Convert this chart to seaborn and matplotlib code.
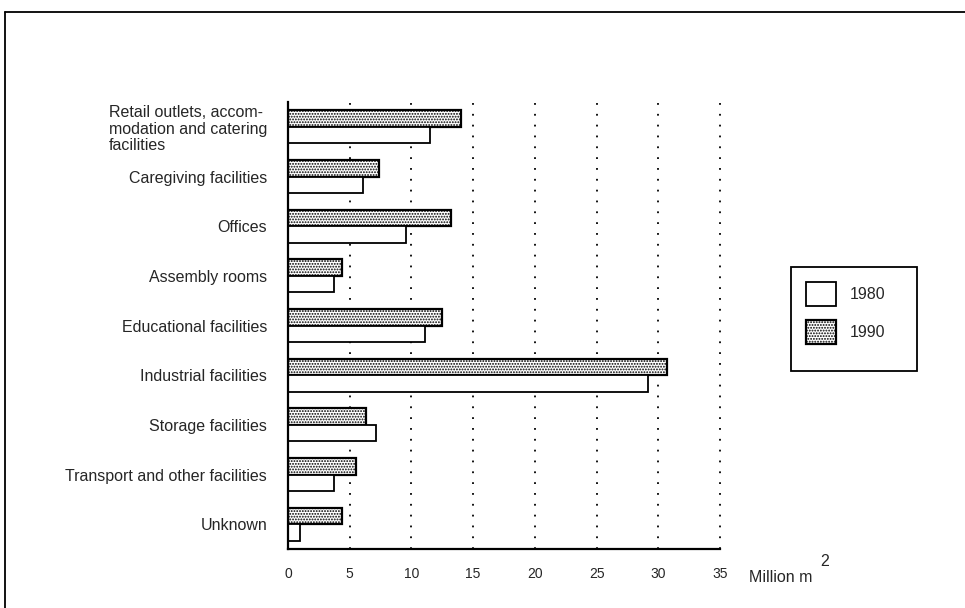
import matplotlib
matplotlib.use("Agg")
import matplotlib.pyplot as plt
from matplotlib.patches import Patch, Rectangle
from matplotlib.lines import Line2D
import pandas as pd
import seaborn as sns

# Floor space by building use, million m2
categories = [
    "Retail outlets, accom-\nmodation and catering\nfacilities",
    "Caregiving facilities",
    "Offices",
    "Assembly rooms",
    "Educational facilities",
    "Industrial facilities",
    "Storage facilities",
    "Transport and other facilities",
    "Unknown",
]
values_1990 = [14.0, 7.4, 13.2, 4.4, 12.5, 30.7, 6.35, 5.5, 4.35]
values_1980 = [11.5, 6.05, 9.6, 3.7, 11.1, 29.2, 7.1, 3.75, 1.0]
years = ["1990", "1980"]
x_ticks = [0, 5, 10, 15, 20, 25, 30, 35]

df = pd.DataFrame({
    "use": categories * 2,
    "year": ["1990"] * len(categories) + ["1980"] * len(categories),
    "area": values_1990 + values_1980,
})

sns.set_style("white")
plt.rcParams["font.family"] = ["Liberation Sans", "DejaVu Sans"]
plt.rcParams["hatch.linewidth"] = 0.9
plt.rcParams["hatch.color"] = "black"

fig = plt.figure(figsize=(9.65, 6.08), dpi=100)
ax = fig.add_axes([288 / 965, 1 - 549 / 608, 432 / 965, 447 / 608])

sns.barplot(data=df, y="use", x="area", hue="year", hue_order=years,
            order=categories, orient="h", width=0.67, ax=ax,
            legend=False, saturation=1, err_kws={"linewidth": 0})

styles = {
    "1990": dict(facecolor="white", hatch="......", linewidth=1.6),
    "1980": dict(facecolor="white", hatch=None, linewidth=1.3),
}
for cont, yr in zip(ax.containers, years):
    for bar in cont:
        bar.set_facecolor(styles[yr]["facecolor"])
        bar.set_edgecolor("black")
        bar.set_linewidth(styles[yr]["linewidth"])
        if styles[yr]["hatch"]:
            bar.set_hatch(styles[yr]["hatch"])

ax.set_xlim(0, 35)
ax.set_ylim(len(categories) - 0.5, -0.5)
ax.set_xticks(x_ticks)
ax.set_xticklabels([str(t) for t in x_ticks])
ax.set_xlabel("")
ax.set_ylabel("")

# dotted vertical guides
for t in x_ticks[1:]:
    ax.axvline(t, color="black", linestyle=(0, (1, 5)), linewidth=1.3,
               zorder=0.5, clip_on=False)

for side in ["top", "right"]:
    ax.spines[side].set_visible(False)
for side in ["left", "bottom"]:
    ax.spines[side].set_color("black")
    ax.spines[side].set_linewidth(1.6)

ax.tick_params(axis="x", direction="out", length=6, width=1.2,
               color="black", pad=7, labelsize=10)
ax.tick_params(axis="y", length=0, pad=15, labelsize=11.5)
for lab in ax.get_yticklabels():
    if "\n" in lab.get_text():
        lab.set_multialignment("left")
        lab.set_linespacing(1.12)

# unit label at the end of the x axis
fig.text(749 / 965, 1 - 577 / 608, "Million m", fontsize=11.5,
         ha="left", va="center")
fig.text(820 / 965, 1 - 562 / 608, "2", fontsize=11.5,
         ha="left", va="center")

# legend
handles = [
    Patch(facecolor="white", edgecolor="black", linewidth=1.3, label="1980"),
    Patch(facecolor="white", edgecolor="black", linewidth=1.6,
          hatch="......", label="1990"),
]
fig.legend(handles=handles, loc="upper left",
           bbox_to_anchor=(806 / 965, 1 - 282 / 608), frameon=False,
           borderpad=0, borderaxespad=0, fontsize=11.5,
           handlelength=1.88, handleheight=1.94, labelspacing=0.875,
           handletextpad=0.875)
fig.add_artist(Rectangle((791 / 965, 1 - 371 / 608), 126 / 965, 104 / 608,
                         transform=fig.transFigure, fill=False,
                         edgecolor="black", linewidth=1.3))

# outer page frame
fig.add_artist(Line2D([5 / 965, 1.0], [1 - 12 / 608, 1 - 12 / 608],
                      transform=fig.transFigure, color="black", linewidth=1.3))
fig.add_artist(Line2D([5 / 965, 5 / 965], [0.0, 1 - 12 / 608],
                      transform=fig.transFigure, color="black", linewidth=1.3))

fig.savefig("out.png", dpi=100)
